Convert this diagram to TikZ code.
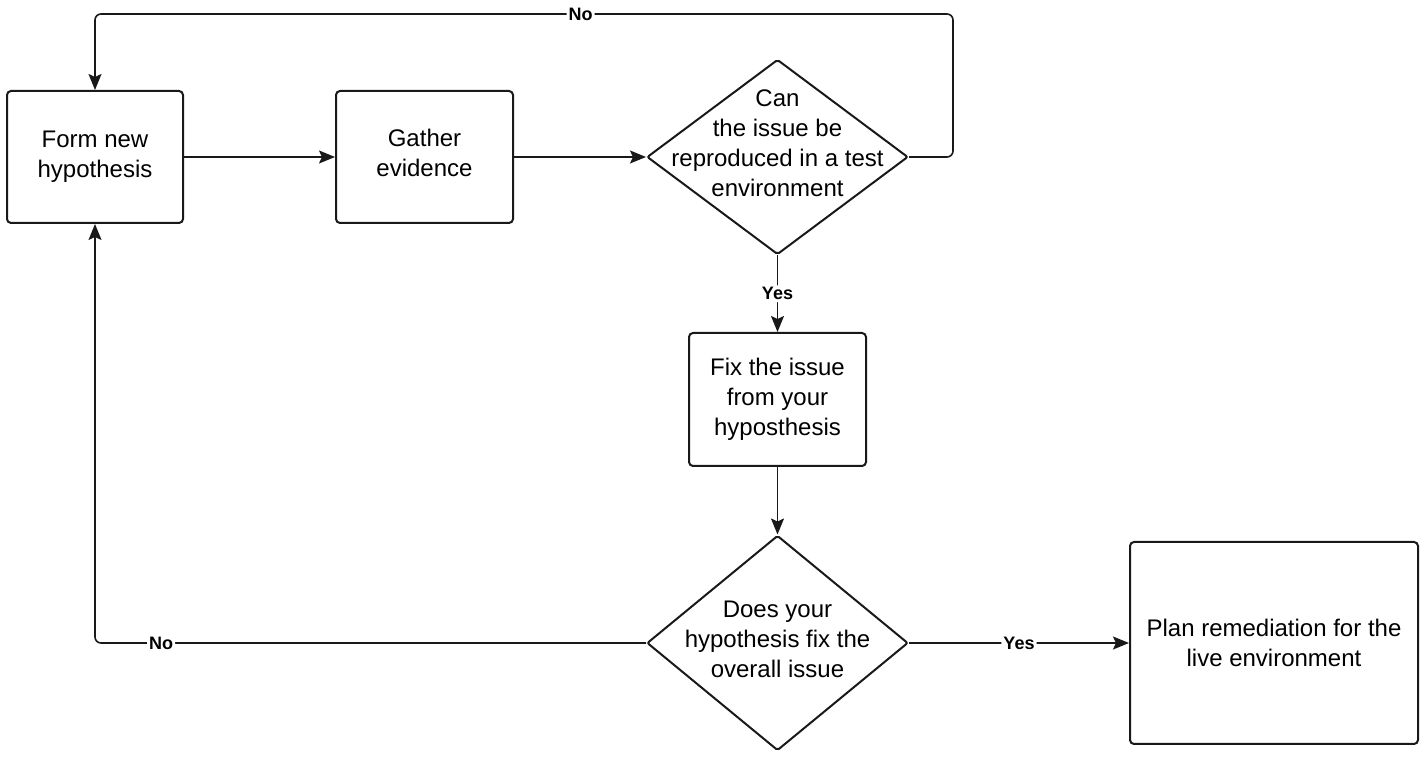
\documentclass[tikz,border=0pt]{standalone}
\usepackage{fontspec}
\setmainfont{Liberation Sans}
\usetikzlibrary{shapes.geometric,arrows.meta}

\begin{document}
\begin{tikzpicture}[x=0.5pt,y=-0.5pt,>={Stealth[length=8pt,width=6.5pt,inset=1.5pt]},
		box/.style={draw=black!90,line width=1pt,rounded corners=2pt,align=center,inner sep=0pt,font=\fontsize{12}{15}\selectfont},
		decision/.style={draw=black!90,diamond,line width=1pt,inner sep=0pt,rounded corners=1pt},
		txt/.style={align=center,inner sep=0pt,font=\fontsize{12}{15}\selectfont},
		conn/.style={->,draw=black!90,line width=0.8pt,rounded corners=3pt},
		lbl/.style={fill=white,inner sep=1pt,font=\fontsize{9}{11}\selectfont\bfseries}]
			\useasboundingbox (0,0) rectangle (1425,758);
			\node[box,minimum width=88pt,minimum height=66pt] (form) at (95,157) {Form new\\hypothesis};
			\node[box,minimum width=88.5pt,minimum height=66pt] (gather) at (424.5,157) {Gather\\evidence\strut};
			\node[decision,minimum width=130.5pt,minimum height=97.5pt] (can) at (777.5,157) {};
			\node[txt] (cantxt) at ([yshift=7pt]can.center) {Can\\the issue be\\reproduced in a test\\environment};
			\node[box,minimum width=88.5pt,minimum height=66.5pt] (fix) at (777.5,399.5) {Fix the issue\\from your\\hyposthesis};
			\node[decision,minimum width=130.5pt,minimum height=107.5pt] (does) at (777.5,643) {};
			\node[txt] (doestxt) at ([yshift=2pt]does.center) {Does your\\hypothesis fix the\\overall issue};
			\node[box,minimum width=144pt,minimum height=101pt] (plan) at (1274,643) {Plan remediation for the\\live environment};
			\draw[conn] (form) -- (gather);
			\draw[conn] (gather) -- (can.west);
			\draw[conn] (can.east) -- ++(44,0) -- ++(0,-143) -| node[lbl,pos=0.217] {No} (form.north);
			\draw[conn] (can.south) -- node[lbl] {Yes} (fix.north);
			\draw[conn] (fix.south) -- (does.north);
			\draw[conn] (does.west) -| node[lbl,pos=0.44] {No} (form.south);
			\draw[conn] (does.east) -- node[lbl] {Yes} (plan.west);
		\end{tikzpicture}
\end{document}
